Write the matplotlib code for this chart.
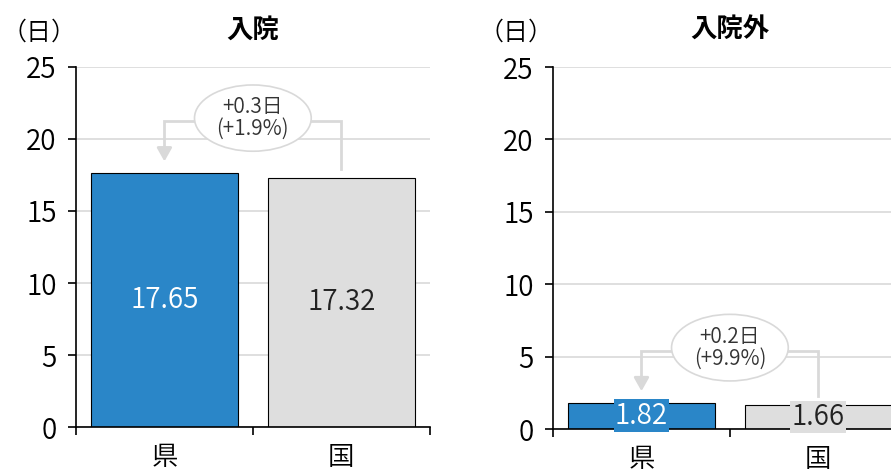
import matplotlib.pyplot as plt
from matplotlib.patches import Ellipse

plt.rcParams['font.family'] = ['Noto Sans CJK JP', 'DejaVu Sans']
plt.rcParams['font.weight'] = 350

# dati
categorie = ['県', '国']
titoli = ['入院', '入院外']
valori_nyuin = [17.65, 17.32]
valori_gairai = [1.82, 1.66]
diff_testi = ['+0.3日\n(+1.9%)', '+0.2日\n(+9.9%)']

colore_blu = '#2A86C8'
colore_grigio = '#DEDEDE'

fig = plt.figure(figsize=(8.91, 4.75), dpi=100)
ax1 = fig.add_axes([0.0853, 0.101, 0.397, 0.758])
ax2 = fig.add_axes([0.6207, 0.0968, 0.397, 0.762])


def disegna(ax, valori, titolo, testo, etichetta_box):
    x = range(len(valori))
    bars = ax.bar(x, valori, width=0.83, color=[colore_blu, colore_grigio],
                  edgecolor='black', linewidth=0.8, zorder=3)
    ax.set_xlim(-0.5, 1.5)
    ax.set_ylim(0, 25)
    ax.set_yticks([0, 5, 10, 15, 20, 25])
    ax.yaxis.grid(True, color='#D9D9D9', linewidth=1.2, zorder=0)
    ax.set_xticks([-0.5, 0.5, 1.5])
    ax.set_xticklabels([])
    ax.set_xticks([0, 1], minor=True)
    ax.set_xticklabels(categorie, minor=True, fontsize=19)
    ax.tick_params(axis='x', which='minor', length=0, pad=12)
    ax.tick_params(axis='x', which='major', length=6, width=1.2, direction='out')
    ax.tick_params(axis='y', length=6, width=1.2, labelsize=20, pad=8)
    for s in ['top', 'right']:
        ax.spines[s].set_visible(False)
    ax.spines['left'].set_linewidth(1.2)
    ax.spines['bottom'].set_linewidth(1.2)
    ax.spines['bottom'].set_zorder(4)
    ax.set_title(titolo, fontsize=19, fontweight='bold', pad=21)
    ax.text(-0.105, 1.095, '（日）', transform=ax.transAxes, fontsize=18,
            ha='center', va='center')

    # etichette dei valori
    for i, (b, v) in enumerate(zip(bars, valori)):
        col_testo = 'white' if i == 0 else '#222222'
        kw = {}
        if etichetta_box:
            kw['bbox'] = dict(boxstyle='square,pad=0.05', fc=b.get_facecolor(),
                              ec='none')
        ax.text(i, v / 2, f'{v:.2f}', ha='center', va='center', fontsize=20,
                color=col_testo, zorder=5, **kw)

    # parentesi con freccia
    top = max(valori)
    y_br = top + 3.6
    ax.plot([1, 1, 0, 0], [valori[1] + 0.6, y_br, y_br, valori[0] + 1.5],
            color='#D9D9D9', linewidth=2, zorder=2, solid_joinstyle='miter')
    ax.annotate('', xy=(0, valori[0] + 0.6), xytext=(0, valori[0] + 1.6),
                arrowprops=dict(arrowstyle='-|>,head_length=0.8,head_width=0.45',
                                color='#D9D9D9', lw=2), zorder=2)
    ax.add_patch(Ellipse((0.5, y_br + 0.2), 0.66, 4.6, facecolor='white',
                         edgecolor='#D9D9D9', linewidth=1.2, zorder=4))
    ax.text(0.5, y_br + 0.2, testo, ha='center', va='center', fontsize=15,
            color='#333333', zorder=5, linespacing=1.0)


disegna(ax1, valori_nyuin, titoli[0], diff_testi[0], False)
disegna(ax2, valori_gairai, titoli[1], diff_testi[1], True)

fig.savefig('out.png', dpi=100)
